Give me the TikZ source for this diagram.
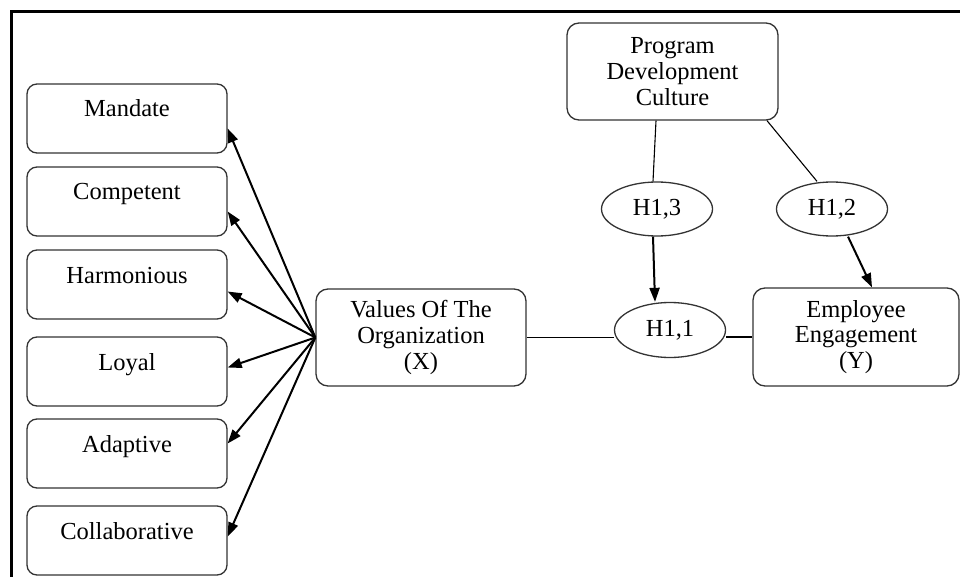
\documentclass[tikz,border=0pt]{standalone}
\usepackage{fontspec}
\setmainfont{Liberation Serif}
\usetikzlibrary{arrows.meta,shapes.geometric}
\begin{document}
\begin{tikzpicture}[x=1pt,y=-1pt,
  every node/.style={font=\fontsize{24.5}{25.8}\selectfont},
  leftbox/.style={draw=black!80,line width=1.3pt,rounded corners=10pt,inner sep=0pt,
    text width=200pt,align=center,text height=33pt,text depth=36pt},
  bigbox/.style={draw=black!80,line width=1.3pt,rounded corners=12pt,inner sep=0pt,
    align=center},
  hyp/.style={draw=black!80,line width=1.3pt,ellipse,inner sep=0pt,
    minimum width=111pt,minimum height=54pt},
  arr/.style={line width=2pt,-{Triangle[length=14pt,width=10pt]}},
  conn/.style={line width=1.1pt}]
\useasboundingbox (0,0) rectangle (960,577);
\draw[line width=3pt] (11,577) -- (11,12) -- (960,12);
% left boxes
\node[leftbox] (m) at (127,118.5) {Mandate};
\node[leftbox] (c) at (127,201.5) {Competent};
\node[leftbox] (h) at (127,284.5) {Harmonious};
\node[leftbox] (l) at (127,371.5) {Loyal};
\node[leftbox] (a) at (127,453.5) {Adaptive};
\node[leftbox] (co) at (127,540.5) {Collaborative};
% main boxes
\node[bigbox,minimum width=210pt,minimum height=97pt] (v) at (421,337.5) {Values Of The\\Organization\\(X)};
\node[bigbox,minimum width=211pt,minimum height=97pt] (p) at (672.5,71.5) {Program\\Development\\Culture};
\node[bigbox,minimum width=206pt,minimum height=98pt] (e) at (856,337) {Employee\\Engagement\\(Y)};
% hypotheses
\node[hyp] (h13) at (657,209) {H1,3};
\node[hyp] (h12) at (832,209) {H1,2};
\node[hyp,minimum height=55pt] (h11) at (670,330) {H1,1};
% arrows to left boxes
\draw[arr] (v.west) -- ([yshift=-10pt]m.east);
\draw[arr] (v.west) -- ([yshift=-10pt]c.east);
\draw[arr] (v.west) -- ([yshift=-7pt]h.east);
\draw[arr] (v.west) -- ([yshift=4pt]l.east);
\draw[arr] (v.west) -- ([yshift=10pt]a.east);
\draw[arr] (v.west) -- ([yshift=4pt]co.east);
% moderation
\draw[conn] ([xshift=-16.5pt]p.south) -- ([xshift=-4pt]h13.north);
\draw[conn] ([xshift=94.5pt]p.south) -- ([xshift=-15pt]h12.north);
\draw[arr] ([xshift=-4pt]h13.south) -- ([xshift=-15pt]h11.north);
\draw[arr] ([xshift=16pt]h12.south) -- ([xshift=16pt]e.north);
\draw[conn] (v.east) -- (v.east -| h11.west);
\draw[conn] (e.west -| h11.east) -- (e.west);
\end{tikzpicture}
\end{document}
